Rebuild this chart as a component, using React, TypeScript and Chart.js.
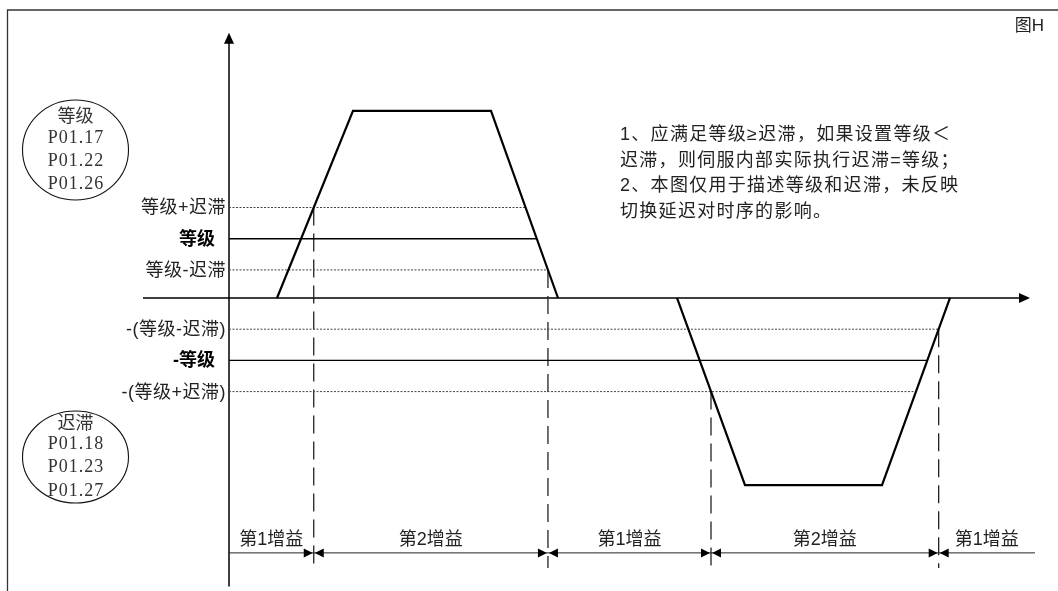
import React, { useEffect, useRef } from 'react';
import { Chart, registerables } from 'chart.js';

Chart.register(...registerables);

// ---- data (time units on x, signal units on y) ----
const pulseUpTime = [4.8, 12.4, 26.2, 32.9];
const pulseUpValue = [0, 6, 6, 0];
const pulseDownTime = [44.8, 51.6, 65.3, 72.1];
const pulseDownValue = [0, -6, -6, 0];

const thresholdLabels = ['等级+迟滞', '等级', '等级-迟滞', '-(等级-迟滞)', '-等级', '-(等级+迟滞)'];
const thresholdValues = [2.9, 1.9, 0.9, -1.0, -2.0, -3.0];
const thresholdKinds = ['dotted', 'solid', 'dotted', 'dotted', 'solid', 'dotted'];

const gainLabels = ['第1增益', '第2增益', '第1增益', '第2增益', '第1增益'];

const levelTitle = '等级';
const levelParams = ['P01.17', 'P01.22', 'P01.26'];
const hystTitle = '迟滞';
const hystParams = ['P01.18', 'P01.23', 'P01.27'];

const noteLines = [
  '1、应满足等级≥迟滞，如果设置等级＜',
  '迟滞，则伺服内部实际执行迟滞=等级；',
  '2、本图仅用于描述等级和迟滞，未反映',
  '切换延迟对时序的影响。',
];
const figureTag = '图H';

// axis extents / rows (data units)
const xAxisRange = [-8.6, 80.1];
const yAxisRange = [-9.25, 8.5];
const gainRowValue = -8.17;
const gainTextValue = -7.75;
const switchLineBottom = -8.65;
const gainRowEnd = 80.6;

const X_MIN = -22.9;
const X_MAX = 82.9;
const Y_MIN = -9.391;
const Y_MAX = 9.551;

const W = 1058;
const H = 591;

function edgeAt(t: number[], v: number[], i: number, value: number) {
  return t[i] + ((t[i + 1] - t[i]) * (value - v[i])) / (v[i + 1] - v[i]);
}

// threshold line end: crossing with the far edge of the corresponding pulse
const thresholdEnds = thresholdValues.map((val) =>
  val > 0 ? edgeAt(pulseUpTime, pulseUpValue, 2, val) : edgeAt(pulseDownTime, pulseDownValue, 2, val)
);

// switching points
const switchPoints = [
  { t: edgeAt(pulseUpTime, pulseUpValue, 0, thresholdValues[0]), v: thresholdValues[0] },
  { t: edgeAt(pulseUpTime, pulseUpValue, 2, thresholdValues[2]), v: thresholdValues[2] },
  { t: edgeAt(pulseDownTime, pulseDownValue, 0, thresholdValues[5]), v: thresholdValues[5] },
  { t: edgeAt(pulseDownTime, pulseDownValue, 2, thresholdValues[3]), v: thresholdValues[3] },
];

const SANS = "'Liberation Sans', 'Noto Sans CJK SC', sans-serif";

const overlayPlugin = {
  id: 'overlay',
  beforeDatasetsDraw(chart: any) {
    const ctx = chart.ctx as CanvasRenderingContext2D;
    const xs = chart.scales.x;
    const ys = chart.scales.y;
    const px = (t: number) => xs.getPixelForValue(t);
    const py = (v: number) => ys.getPixelForValue(v);
    ctx.save();
    // frame
    ctx.strokeStyle = '#333';
    ctx.lineWidth = 1.3;
    ctx.beginPath();
    ctx.moveTo(7.5, H);
    ctx.lineTo(7.5, 10);
    ctx.lineTo(W, 10);
    ctx.stroke();

    // axes
    ctx.strokeStyle = '#000';
    ctx.fillStyle = '#000';
    ctx.lineWidth = 1.5;
    const x0 = px(0);
    const y0 = py(0);
    ctx.beginPath();
    ctx.moveTo(px(xAxisRange[0]), y0);
    ctx.lineTo(px(xAxisRange[1]) - 6, y0);
    ctx.moveTo(x0, py(yAxisRange[0]));
    ctx.lineTo(x0, py(yAxisRange[1]) + 6);
    ctx.stroke();
    // arrow heads
    const xt = px(xAxisRange[1]);
    ctx.beginPath();
    ctx.moveTo(xt, y0);
    ctx.lineTo(xt - 11, y0 - 5);
    ctx.lineTo(xt - 11, y0 + 5);
    ctx.closePath();
    ctx.fill();
    const yt = py(yAxisRange[1]);
    ctx.beginPath();
    ctx.moveTo(x0, yt);
    ctx.lineTo(x0 - 5, yt + 11);
    ctx.lineTo(x0 + 5, yt + 11);
    ctx.closePath();
    ctx.fill();

    // gain row
    const gy = py(gainRowValue);
    ctx.lineWidth = 1;
    ctx.strokeStyle = '#222';
    ctx.beginPath();
    ctx.moveTo(x0, gy);
    ctx.lineTo(px(gainRowEnd), gy);
    ctx.stroke();
    ctx.fillStyle = '#000';
    switchPoints.forEach((s) => {
      const sx = px(s.t);
      ctx.beginPath();
      ctx.moveTo(sx - 1, gy);
      ctx.lineTo(sx - 10, gy - 4.5);
      ctx.lineTo(sx - 10, gy + 4.5);
      ctx.closePath();
      ctx.fill();
      ctx.beginPath();
      ctx.moveTo(sx + 1, gy);
      ctx.lineTo(sx + 10, gy - 4.5);
      ctx.lineTo(sx + 10, gy + 4.5);
      ctx.closePath();
      ctx.fill();
    });
    ctx.restore();
  },
  afterDatasetsDraw(chart: any) {
    const ctx = chart.ctx as CanvasRenderingContext2D;
    const xs = chart.scales.x;
    const ys = chart.scales.y;
    const px = (t: number) => xs.getPixelForValue(t);
    const py = (v: number) => ys.getPixelForValue(v);
    ctx.save();
    const x0 = px(0);

    // threshold labels
    ctx.textBaseline = 'middle';
    ctx.textAlign = 'right';
    thresholdLabels.forEach((lab, i) => {
      const bold = thresholdKinds[i] === 'solid';
      ctx.font = `${bold ? 'bold ' : ''}18px ${SANS}`;
      ctx.fillStyle = bold ? '#000' : '#222';
      (ctx as any).letterSpacing = bold ? '0px' : '0.5px';
      ctx.fillText(lab, bold ? x0 - 14 : x0 - 3, py(thresholdValues[i]) + 1);
    });
    (ctx as any).letterSpacing = '0px';

    // gain labels
    const bounds = [0, ...switchPoints.map((s) => s.t), gainRowEnd];
    ctx.textAlign = 'center';
    ctx.font = `18px ${SANS}`;
    ctx.fillStyle = '#222';
    gainLabels.forEach((lab, i) => {
      const cx = (px(bounds[i]) + px(bounds[i + 1])) / 2;
      ctx.fillText(lab, cx, py(gainTextValue));
    });

    // notes
    ctx.textAlign = 'left';
    ctx.font = `18px ${SANS}`;
    (ctx as any).letterSpacing = '1.3px';
    noteLines.forEach((line, i) => {
      ctx.fillText(line, 620, 135 + i * 25.7);
    });
    (ctx as any).letterSpacing = '0px';

    // figure tag
    ctx.textAlign = 'right';
    ctx.font = `17px ${SANS}`;
    ctx.fillText(figureTag, 1044, 26);

    // parameter ellipses
    const drawGroup = (cx: number, cy: number, rx: number, ry: number, title: string, params: string[], ys2: number[]) => {
      ctx.strokeStyle = '#111';
      ctx.lineWidth = 1.1;
      ctx.beginPath();
      ctx.ellipse(cx, cy, rx, ry, 0, 0, Math.PI * 2);
      ctx.stroke();
      ctx.textAlign = 'center';
      ctx.fillStyle = '#333';
      ctx.font = `18px 'Noto Sans CJK SC', sans-serif`;
      ctx.fillText(title, cx, ys2[0]);
      ctx.font = `18px 'Liberation Serif', serif`;
      (ctx as any).letterSpacing = '1px';
      params.forEach((p, i) => ctx.fillText(p, cx + 0.5, ys2[i + 1]));
      (ctx as any).letterSpacing = '0px';
    };
    drawGroup(75.5, 150, 53, 50, levelTitle, levelParams, [115, 138, 161, 184]);
    drawGroup(75.5, 457, 53, 46, hystTitle, hystParams, [422, 444, 467, 491]);
    ctx.restore();
  },
};

export default function App() {
  const ref = useRef<HTMLCanvasElement | null>(null);
  useEffect(() => {
    if (!ref.current) return;
    const datasets: any[] = [];
    datasets.push({
      data: pulseUpTime.map((t, i) => ({ x: t, y: pulseUpValue[i] })),
      borderColor: '#000',
      borderWidth: 2.2,
    });
    datasets.push({
      data: pulseDownTime.map((t, i) => ({ x: t, y: pulseDownValue[i] })),
      borderColor: '#000',
      borderWidth: 2.2,
    });
    thresholdValues.forEach((v, i) => {
      const solid = thresholdKinds[i] === 'solid';
      datasets.push({
        data: [
          { x: 0, y: v },
          { x: thresholdEnds[i], y: v },
        ],
        borderColor: solid ? '#000' : '#444',
        borderWidth: solid ? 1.4 : 1,
        borderDash: solid ? [] : [2, 1.5],
      });
    });
    switchPoints.forEach((s) => {
      datasets.push({
        data: [
          { x: s.t, y: s.v },
          { x: s.t, y: switchLineBottom },
        ],
        borderColor: '#222',
        borderWidth: 1.3,
        borderDash: [18, 8],
      });
    });
    datasets.forEach((d) => {
      d.pointRadius = 0;
      d.tension = 0;
      d.fill = false;
      d.clip = false;
    });
    const chart = new Chart(ref.current, {
      type: 'line',
      data: { datasets },
      options: {
        animation: false,
        responsive: false,
        devicePixelRatio: 1,
        events: [],
        layout: { padding: 0 },
        plugins: { legend: { display: false }, tooltip: { enabled: false } },
        scales: {
          x: { type: 'linear', min: X_MIN, max: X_MAX, display: false },
          y: { type: 'linear', min: Y_MIN, max: Y_MAX, display: false },
        },
      },
      plugins: [overlayPlugin],
    } as any);
    return () => chart.destroy();
  }, []);
  return (
    <div style={{ position: 'fixed', left: 0, top: 0, width: W, height: H, background: '#fff' }}>
      <canvas ref={ref} width={W} height={H} style={{ display: 'block', width: W, height: H }} />
    </div>
  );
}
